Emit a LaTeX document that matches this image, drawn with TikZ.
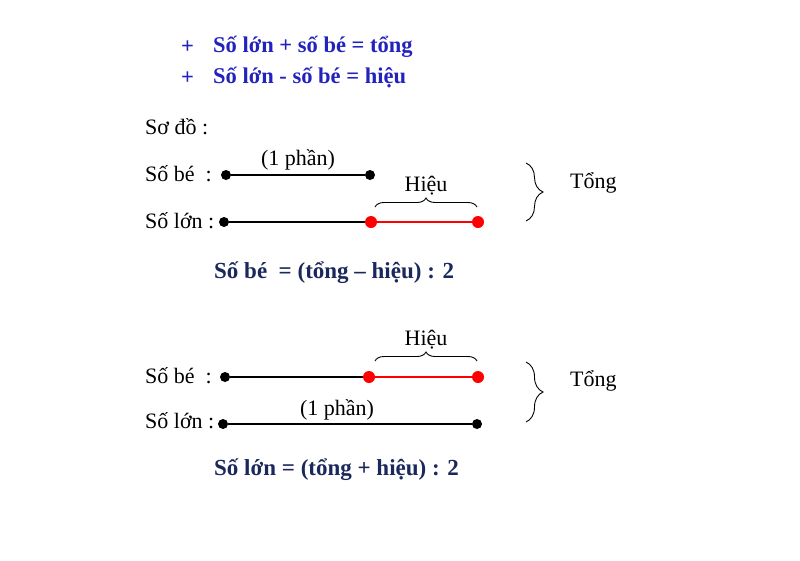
\documentclass[tikz,border=0pt]{standalone}
\usepackage{fontspec}
\setmainfont{Liberation Serif}
\usetikzlibrary{decorations.pathreplacing}
\definecolor{ruleblue}{RGB}{34,34,190}
\definecolor{navy}{RGB}{26,40,92}

\begin{document}
\begin{tikzpicture}[x=1pt,y=-1pt,
	txt/.style={anchor=west,inner sep=0pt,font=\fontsize{22}{26}\selectfont},
	rule/.style={txt,text=ruleblue,font=\fontsize{22.5}{26}\selectfont\bfseries},
	formula/.style={txt,text=navy,font=\fontsize{23}{27}\selectfont\bfseries},
	dot/.style={circle,fill=black,inner sep=0pt,minimum size=10pt},
	reddot/.style={circle,fill=red,inner sep=0pt,minimum size=12pt},
	brace/.style={decorate,decoration={brace,amplitude=#1},line width=0.9pt},
	brace/.default=9pt]
	\useasboundingbox (0,0) rectangle (800,560);
	% rules
	\node[rule] (p1) at (181,47) {+};
	\node[rule] (r1) at (213,47) {Số lớn + số bé = tổng};
	\node[rule] (p2) at (181,78) {+};
	\node[rule] (r2) at (213,78) {Số lớn - số bé = hiệu};
	\node[txt] (sodo) at (145,127) {Sơ đồ :};
	% first diagram
	\node[txt] (be1) at (145,174) {Số bé \ :};
	\node[txt] (lon1) at (145,221) {Số lớn :};
	\node[dot] (a1) at (226,175) {};
	\node[dot] (b1) at (370,175) {};
	\node[dot] (c1) at (224,222) {};
	\node[reddot] (d1) at (371,222) {};
	\node[reddot] (e1) at (478,222) {};
	\draw[line width=1.2pt] (a1) -- (b1) node[midway,above=1pt,font=\fontsize{22}{26}\selectfont]{(1 phần)};
	\draw[line width=1.2pt] (c1) -- (d1);
	\draw[red,line width=1.2pt] (d1) -- (e1);
	\draw[brace] (375,207) -- (477,207) node[midway,above=8pt,font=\fontsize{22}{26}\selectfont] (h1) {Hiệu};
	\draw[brace=17pt] (526,163) -- (526,221) node[midway] (t1) {};
	\node[txt] (tong1) at (570,183) {Tổng};
	\node[formula] (f1) at (214,273) {Số bé \ = (tổng – hiệu) : 2};
	% second diagram
	\node[txt] (be2) at (145,376) {Số bé \ :};
	\node[txt] (lon2) at (145,421) {Số lớn :};
	\node[dot] (a2) at (225,377) {};
	\node[reddot] (b2) at (369,377) {};
	\node[reddot] (c2) at (478,377) {};
	\node[dot] (d2) at (223,424) {};
	\node[dot] (e2) at (477,424) {};
	\draw[line width=1.2pt] (a2) -- (b2);
	\draw[red,line width=1.2pt] (b2) -- (c2);
	\draw[line width=1.2pt] (d2) -- (e2);
	\node[font=\fontsize{22}{26}\selectfont] (part2) at (337,410) {(1 phần)};
	\draw[brace] (375,361) -- (477,361) node[midway,above=8pt,font=\fontsize{22}{26}\selectfont] (h2) {Hiệu};
	\draw[brace=17pt] (526,362) -- (526,422) node[midway] (t2) {};
	\node[txt] (tong2) at (570,381) {Tổng};
	\node[formula] (f2) at (214,470) {Số lớn = (tổng + hiệu) : 2};
\end{tikzpicture}
\end{document}
